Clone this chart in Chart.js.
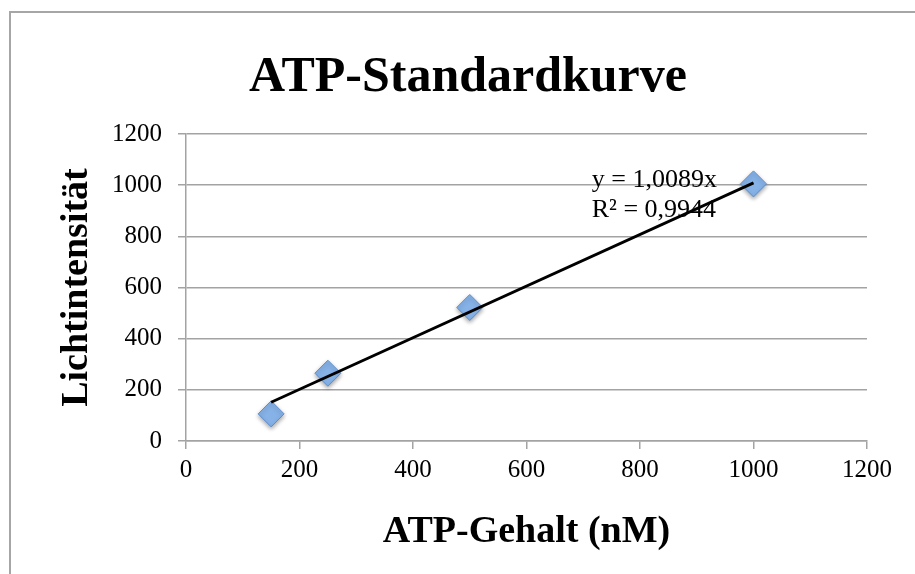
<!DOCTYPE html>
<html>
<head>
<meta charset="utf-8">
<script src="https://cdn.jsdelivr.net/npm/chart.js@4/dist/chart.umd.min.js"></script>
<style>
  body{margin:0;background:#fff;}
  canvas{display:block;}
</style>
</head>
<body>
<canvas id="atpChart" width="915" height="574"></canvas>
<script>
// measured values
const atpConc=[150,250,500,1000];
const lightIntensity=[106,265,522,1005];
// linear trend (y = 1,0089x) end points
const trendX=[150,1000];
const trendY=[151.3,1008.9];
const xTicks=[0,200,400,600,800,1000,1200];
const yTicks=[0,200,400,600,800,1000,1200];

const chartTitle="ATP-Standardkurve";
const xTitle="ATP-Gehalt (nM)";
const yTitle="Lichtintensität";
const eqLines=["y = 1,0089x","R² = 0,9944"];

const SERIF="'Liberation Serif', 'DejaVu Serif', serif";
const GRID="#a3a3a3";

Chart.defaults.color="#000";
Chart.defaults.font.family=SERIF;

// frame, title and equation text
const extras={
  id:"extras",
  beforeDraw(chart){
    let ctx=chart.ctx;
    ctx.save();
    ctx.strokeStyle="#a6a6a6";
    ctx.lineWidth=2;
    ctx.beginPath();
    ctx.moveTo(10,chart.height);
    ctx.lineTo(10,12);
    ctx.lineTo(chart.width,12);
    ctx.stroke();

    ctx.fillStyle="#000";
    ctx.font="bold 50px "+SERIF;
    ctx.textAlign="center";
    ctx.textBaseline="alphabetic";
    ctx.fillText(chartTitle,468,91);
    ctx.restore();
  },
  beforeDatasetsDraw(chart){
    let ctx=chart.ctx,xs=chart.scales.x,ys=chart.scales.y;
    let left=xs.getPixelForValue(715),top=ys.getPixelForValue(993);
    ctx.save();
    ctx.fillStyle="#000";
    ctx.font="26px "+SERIF;
    ctx.textAlign="left";
    ctx.textBaseline="alphabetic";
    eqLines.forEach((t,i)=>ctx.fillText(t,left,top+i*30));
    ctx.restore();
  },
  beforeDatasetDraw(chart,args){
    if(args.index===1){
      chart.ctx.save();
      chart.ctx.shadowColor="rgba(0,0,0,0.35)";
      chart.ctx.shadowBlur=4;
      chart.ctx.shadowOffsetY=2;
    }
  },
  afterDatasetDraw(chart,args){
    if(args.index===1) chart.ctx.restore();
  }
};

new Chart(document.getElementById("atpChart"),{
  type:"scatter",
  data:{
    datasets:[
      {
        type:"line",
        label:"Trend",
        data:trendX.map((x,i)=>({x:x,y:trendY[i]})),
        borderColor:"#000",
        borderWidth:2.8,
        pointRadius:0,
        fill:false
      },
      {
        label:"Lichtintensität",
        data:atpConc.map((x,i)=>({x:x,y:lightIntensity[i]})),
        pointStyle:"rectRot",
        pointRadius:13,
        backgroundColor:"#86b2e8",
        borderColor:"#5d8fd0",
        borderWidth:1
      }
    ]
  },
  options:{
    responsive:false,
    animation:false,
    layout:{padding:{top:134,right:48,left:0,bottom:0}},
    plugins:{legend:{display:false},tooltip:{enabled:false}},
    scales:{
      x:{
        type:"linear",
        min:0,max:1200,
        afterBuildTicks(s){s.ticks=xTicks.map(v=>({value:v}));},
        afterFit(s){s.height=133;},
        grid:{drawOnChartArea:false,drawTicks:true,tickLength:8,color:GRID,lineWidth:1.5},
        border:{color:GRID,width:1.5},
        ticks:{font:{size:25},padding:6,maxRotation:0,callback:v=>String(v)},
        title:{display:true,text:xTitle,font:{size:38,weight:"bold"},padding:{bottom:19}}
      },
      y:{
        type:"linear",
        min:0,max:1200,
        afterBuildTicks(s){s.ticks=yTicks.map(v=>({value:v}));},
        afterFit(s){s.width=186;},
        grid:{drawTicks:true,tickLength:8,color:GRID,lineWidth:1.5},
        border:{color:GRID,width:1.5},
        ticks:{font:{size:25},padding:16,callback:v=>String(v)},
        title:{display:true,text:yTitle,font:{size:38,weight:"bold"},padding:{top:54}}
      }
    }
  },
  plugins:[extras]
});
</script>
</body>
</html>
